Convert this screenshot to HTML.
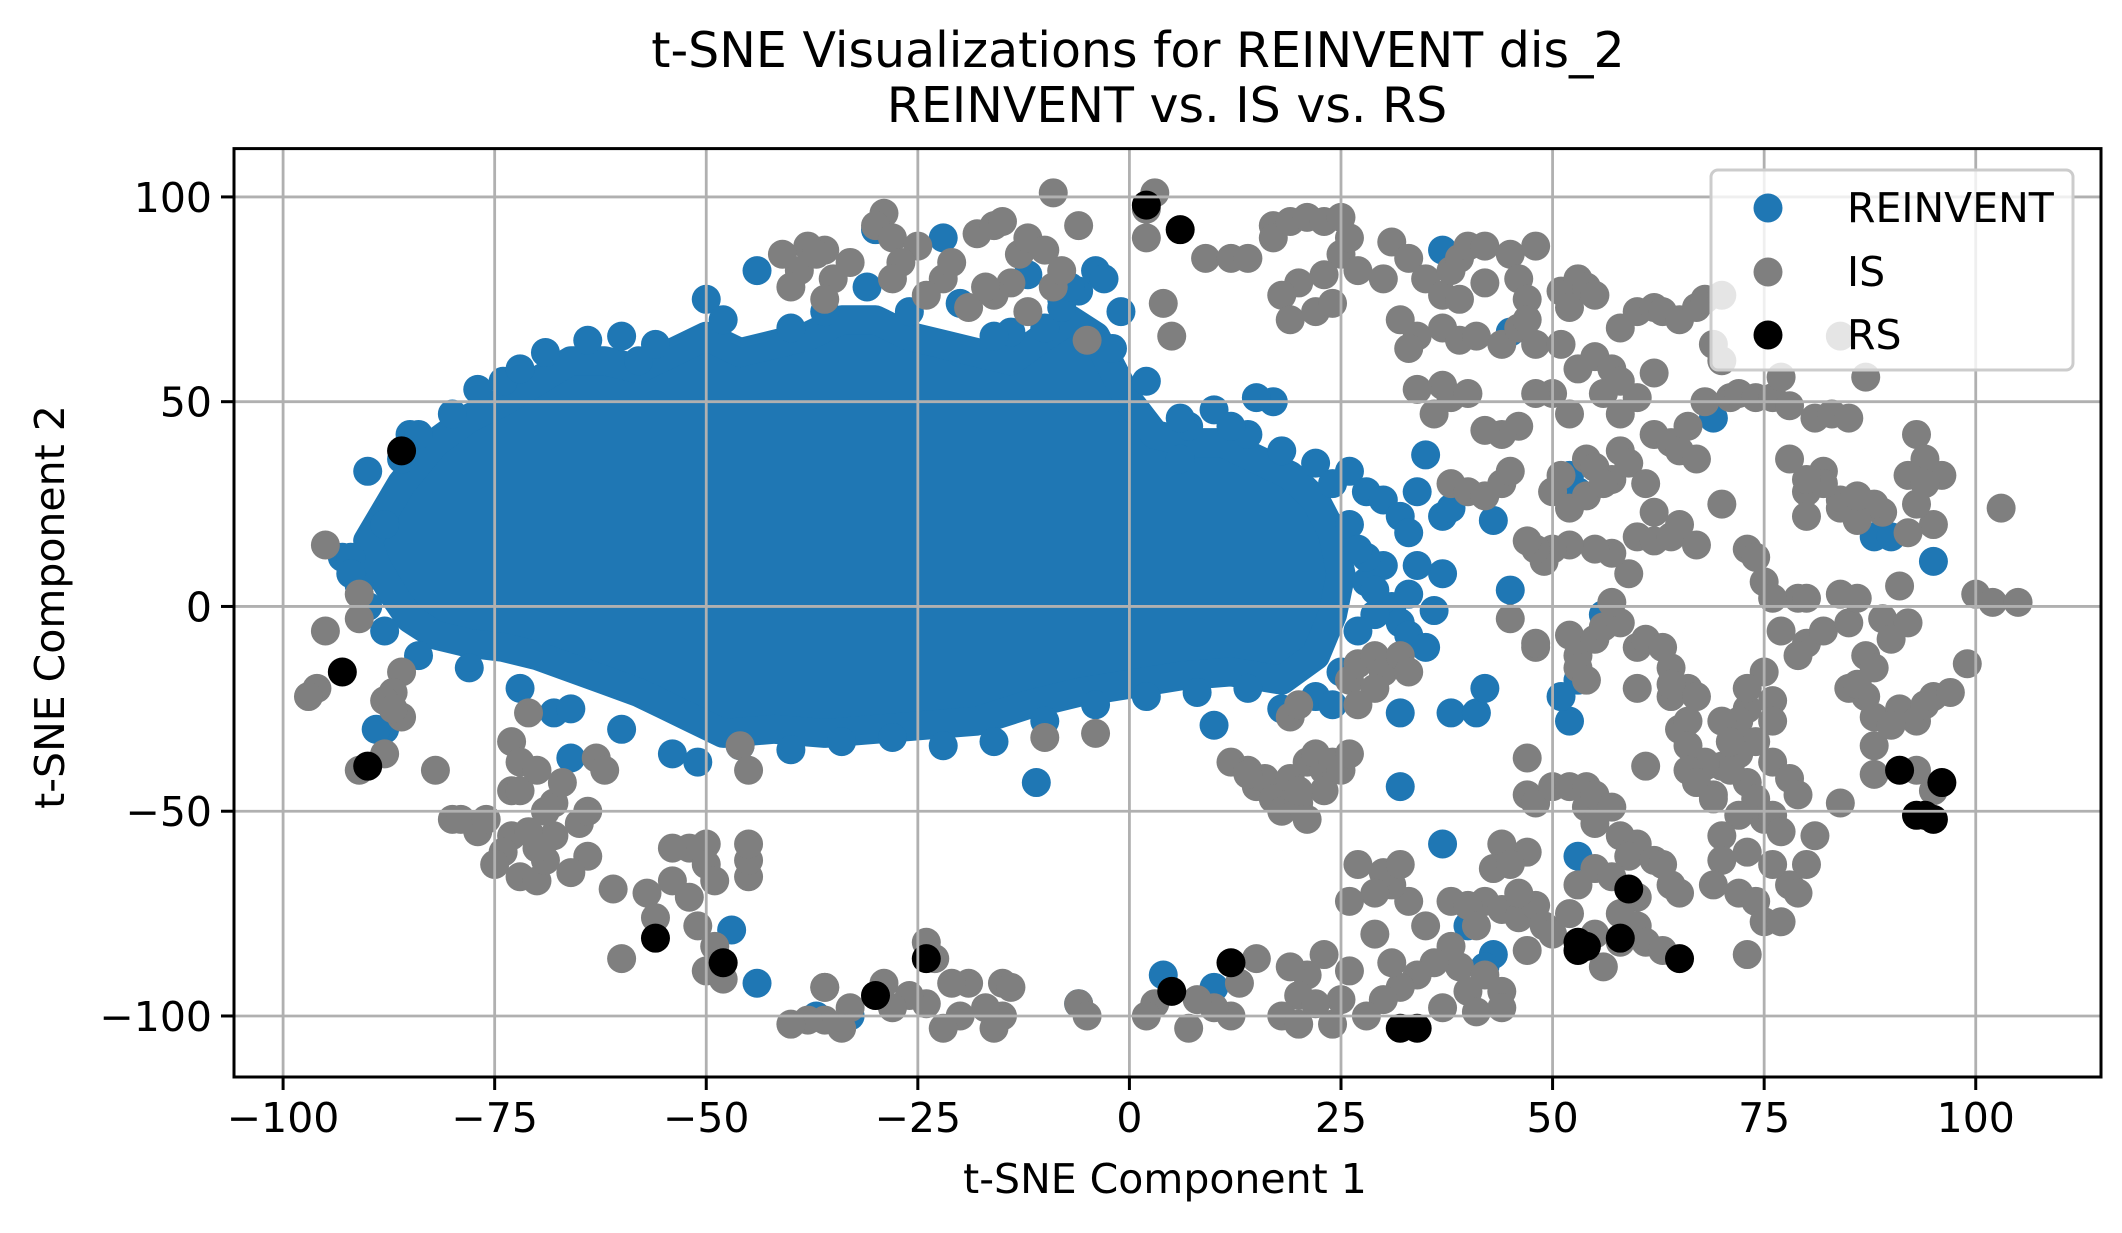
<!DOCTYPE html>
<html><head><meta charset="utf-8"><style>
html,body{margin:0;padding:0;background:#fff;}
svg{display:block;font-family:"DejaVu Sans","Liberation Sans",sans-serif;}
</style></head><body>
<svg id="chart" width="2122" height="1233" viewBox="0 0 2122 1233">
<rect width="2122" height="1233" fill="#fff"/>
<g id="marks"></g>
<g id="grid"></g>
<g id="axes"></g>
<text x="1138" y="67" text-anchor="middle" font-size="49">t-SNE Visualizations for REINVENT dis_2</text>
<text x="1167" y="122" text-anchor="middle" font-size="49">REINVENT vs. IS vs. RS</text>
<text x="1165" y="1193" text-anchor="middle" font-size="41">t-SNE Component 1</text>
<text transform="translate(64,607) rotate(-90)" text-anchor="middle" font-size="41">t-SNE Component 2</text>
<g>
<rect x="1711" y="170" width="362" height="200" rx="7" fill="#fff" fill-opacity="0.8" stroke="#ccc" stroke-width="3"/>
<circle cx="1768" cy="208" r="14.5" fill="#1f77b4"/>
<text x="1847" y="222" font-size="41">REINVENT</text>
<circle cx="1768" cy="272" r="14.5" fill="#7f7f7f"/>
<text x="1847" y="286" font-size="41">IS</text>
<circle cx="1768" cy="335" r="14.5" fill="#000"/>
<text x="1847" y="349" font-size="41">RS</text>
</g>
</svg>
<script>
const xTicks=[-100,-75,-50,-25,0,25,50,75,100];
const yTicks=[-100,-50,0,50,100];
const xTickLabels=["\u2212100","\u221275","\u221250","\u221225","0","25","50","75","100"];
const yTickLabels=["\u2212100","\u221250","0","50","100"];
const xDomain=[-105.8,114.8];
const yDomain=[-114.9,111.8];
// dense REINVENT core outline (data coords)
const reinventCoreX=[-90,-86,-82,-78,-74,-70,-66,-62,-58,-54,-50,-46,-42,-38,-34,-30,-26,-22,-18,-14,-10,-7,-4,-2,0,3,7,11,15,19,22,24,25,24,22,18,12,6,0,-6,-12,-18,-24,-30,-36,-42,-48,-52,-55,-58,-62,-66,-70,-74,-78,-82,-85,-87,-89];
const reinventCoreY=[16,30,40,46,50,55,60,60,58,62,66,62,64,66,70,70,66,64,62,60,66,70,66,58,50,42,40,40,36,32,26,18,8,-2,-12,-18,-16,-17,-19,-21,-24,-28,-29,-30,-31,-30,-31,-27,-24,-21,-18,-15,-12,-10,-9,-7,-3,3,10];
const reinventX=[-88,-68,-66,-51,-47,-44,-37,-33,-30,-22,-20,-31,-44,-11,-6,4,10,10,37,32,32,35,37,38,38,41,42,43,45,45,37,52,53,52,53,51,53,56,37,40,43,42,69,88,90,95,17,15,14,10,6,7,-8,-6,-4,-12,-10,-14,-58,-69,-50,-74,-60,-90,-89,-93,-85,22,26,28,30,32,34,33,30,31,32,33,35,29,28,34,36,33,
 -92,-91,-88,-86,-84,-80,-77,-72,-64,-56,-48,-40,-36,-26,-16,-8,-2,2,6,12,18,24,26,28,27,25,22,18,14,8,2,-4,-10,-16,-22,-28,-34,-40,-46,-54,-60,-66,-72,-78,-84,-88,-90,-92,-3,-7,-1,27,29,24];
const reinventY=[-30,-26,-37,-38,-79,-92,-100,-100,92,90,74,78,82,-43,-97,-90,-29,-93,8,-26,-44,37,22,24,-26,-26,-20,21,4,67,87,-28,-18,32,28,-22,-61,-2,-58,-78,-85,-88,46,17,17,11,50,51,42,48,36,44,75,77,82,81,68,67,60,62,75,55,66,33,-30,12,42,35,33,28,26,22,28,18,10,0,-4,-7,-10,-2,6,10,-1,3,
 12,5,20,36,42,47,53,58,65,64,70,68,72,72,66,73,63,55,46,44,38,30,20,12,-6,-16,-22,-25,-20,-21,-22,-24,-28,-33,-34,-32,-33,-35,-34,-36,-30,-25,-20,-15,-12,-6,0,8,80,78,72,14,4,-24];
const isX=[-29,-30,-28,-25,-27,-28,-22,-18,-16,-15,-13,-12,-10,-9,-8,-6,-14,-16,-19,-17,-12,-9,-24,-21,-33,-35,-36,-38,-39,-40,-36,-41,-37,-5,3,2,2,4,5,9,12,14,17,17,19,21,23,25,25,26,23,20,18,19,22,24,27,30,31,33,32,34,33,35,37,38,39,40,42,42,39,37,39,41,44,46,45,46,47,47,48,48,51,52,53,54,55,51,53,55,57,58,60,62,63,65,67,68,70,69,70,71,72,74,76,68,58,60,62,58,56,50,52,48,46,44,42,36,37,34,38,40,38,40,42,44,45,50,51,54,55,57,58,59,61,62,64,65,66,67,70,73,74,75,77,79,80,82,85,84,86,87,88,89,92,91,90,85,87,86,88,88,91,93,94,95,97,99,100,102,105,103,96,93,94,92,89,88,86,84,82,82,80,78,78,81,83,85,84,87,77,80,84,86,80,95,93,94,92,76,80,79,75,76,73,72,76,74,76,72,70,73,74,75,71,68,68,66,65,64,66,66,70,71,69,72,76,77,78,79,81,80,78,76,73,70,70,69,72,74,75,73,77,79,84,88,93,95,90,60,62,64,67,62,65,59,57,55,52,50,49,48,47,52,54,56,45,48,48,52,53,55,56,53,54,58,57,60,61,63,64,64,60,61,66,67,69,73,67,47,47,48,50,52,54,54,55,55,57,58,60,59,62,63,64,65,60,58,55,57,53,47,44,43,45,42,44,46,48,46,47,49,50,52,55,56,58,60,61,63,38,40,41,38,39,40,42,44,44,41,37,36,34,32,35,33,31,30,32,27,29,26,29,31,30,28,25,26,23,21,20,18,20,22,24,19,15,13,12,10,8,7,3,2,-6,-5,-15,-16,-17,-15,-19,-21,-20,-22,-24,-26,-28,-29,-30,-33,-34,-36,-38,-36,-40,-23,-24,-14,12,14,15,16,17,18,20,21,19,21,22,23,23,24,25,26,19,20,14,20,26,27,29,30,32,33,29,27,-95,-91,-91,-95,-96,-97,-91,-86,-87,-88,-86,-87,-88,-82,-80,-79,-77,-76,-73,-72,-73,-71,-72,-73,-74,-75,-72,-70,-69,-70,-68,-68,-67,-69,-71,-65,-64,-66,-63,-64,-61,-60,-57,-56,-54,-52,-52,-54,-50,-50,-49,-51,-49,-50,-48,-45,-45,-45,-46,-45,-36,-10,-4,-70,-62];
const isY=[96,93,90,88,84,80,80,91,93,94,86,90,87,78,82,93,79,76,73,78,72,101,76,84,84,80,87,88,82,78,75,86,86,65,101,97,90,74,66,85,85,85,93,90,94,95,94,95,86,90,81,79,76,70,72,74,82,80,89,85,70,66,63,80,76,82,85,88,88,79,75,68,65,66,64,68,86,80,75,70,88,64,77,73,80,78,76,64,58,61,58,68,72,73,72,70,73,75,76,64,60,51,52,51,51,50,55,51,57,47,52,52,47,52,44,42,43,47,54,53,51,52,30,28,27,30,33,28,32,36,34,31,38,35,30,42,40,38,44,36,25,14,12,6,-6,2,-9,-6,-4,3,2,-12,-15,-3,-4,5,-8,-20,-22,-19,-34,-27,-25,-28,-24,-22,-21,-14,3,1,1,24,32,42,36,32,23,25,21,26,33,30,28,36,49,46,47,46,66,56,56,31,24,27,22,20,25,30,18,2,2,-12,-16,-23,-25,-28,-28,-33,-38,-36,-39,-43,-47,-52,-40,-39,-38,-20,-30,-22,-28,-34,-28,-33,-46,-51,-51,-55,-42,-46,-56,-63,-68,-63,-60,-56,-62,-68,-70,-72,-77,-85,-77,-70,-48,-41,-40,-45,-29,17,16,17,15,23,20,8,13,14,15,14,11,14,16,24,27,30,-3,-10,-9,-7,-12,-8,-5,-15,-18,-4,1,-10,-8,-10,-15,-19,-20,-39,-40,-43,-47,-20,-22,-37,-46,-48,-44,-44,-44,-49,-46,-53,-49,-56,-58,-61,-62,-63,-68,-70,-71,-75,-64,-66,-68,-60,-58,-64,-63,-72,-74,-76,-73,-70,-84,-78,-80,-75,-80,-88,-82,-78,-82,-84,-72,-73,-78,-83,-88,-94,-90,-94,-98,-99,-98,-87,-90,-93,-78,-72,-68,-65,-63,-63,-70,-72,-80,-87,-96,-100,-96,-89,-85,-90,-95,-100,-102,-97,-102,-88,-86,-92,-100,-98,-96,-103,-97,-100,-97,-100,-100,-103,-98,-92,-92,-92,-100,-103,-97,-95,-98,-92,-95,-98,-103,-101,-101,-93,-102,-86,-82,-93,-38,-40,-44,-42,-47,-50,-48,-52,-42,-38,-36,-40,-45,-38,-40,-36,-27,-24,-41,-45,-18,-14,-12,-16,-12,-16,-20,-24,15,3,-3,-6,-20,-22,-40,-16,-21,-23,-27,-25,-36,-40,-52,-52,-55,-52,-45,-45,-33,-26,-38,-56,-60,-63,-66,-67,-62,-59,-56,-48,-43,-50,-55,-53,-61,-65,-37,-50,-69,-86,-70,-76,-67,-71,-59,-59,-58,-63,-67,-78,-83,-89,-91,-66,-62,-58,-34,-40,-93,-32,-31,-40,-40];
const rsX=[-86,-93,-90,-56,-48,-30,-24,2,6,5,12,32,34,53,54,53,58,59,65,91,96,93,95,94];
const rsY=[38,-16,-39,-81,-87,-95,-86,98,92,-94,-87,-103,-103,-82,-83,-84,-81,-69,-86,-40,-43,-51,-52,-51];

const L=234,R=2101,T=148.6,B=1077;
function sx(v){return L+(v-xDomain[0])/(xDomain[1]-xDomain[0])*(R-L);}
function sy(v){return B-(v-yDomain[0])/(yDomain[1]-yDomain[0])*(B-T);}
const NS="http://www.w3.org/2000/svg";
const marks=document.getElementById('marks');
const RAD=14.5;

function drawSeries(xs,ys,color,name){
  const g=document.createElementNS(NS,'g');
  
  
  for(let i=0;i<xs.length;i++){
    const c=document.createElementNS(NS,'circle');
    c.setAttribute('cx',sx(xs[i]));c.setAttribute('cy',sy(ys[i]));
    c.setAttribute('r',RAD);c.setAttribute('fill',color);
    
    
    g.appendChild(c);
  }
  marks.appendChild(g);
}
const core=document.createElementNS(NS,'polygon');
core.setAttribute('points',reinventCoreX.map((x,i)=>sx(x)+','+sy(reinventCoreY[i])).join(' '));
core.setAttribute('fill','#1f77b4');core.setAttribute('stroke','#1f77b4');
core.setAttribute('stroke-width',2*RAD);core.setAttribute('stroke-linejoin','round');


marks.appendChild(core);
drawSeries(reinventX,reinventY,'#1f77b4','reinvent-series');
drawSeries(isX,isY,'#7f7f7f','is-series');
drawSeries(rsX,rsY,'#000000','rs-series');

const grid=document.getElementById('grid');
xTicks.forEach(v=>{
  const l=document.createElementNS(NS,'line');
  l.setAttribute('x1',sx(v));l.setAttribute('x2',sx(v));l.setAttribute('y1',T);l.setAttribute('y2',B);
  l.setAttribute('stroke','#b0b0b0');l.setAttribute('stroke-width','2.8');
  
  
  grid.appendChild(l);
});
yTicks.forEach(v=>{
  const l=document.createElementNS(NS,'line');
  l.setAttribute('y1',sy(v));l.setAttribute('y2',sy(v));l.setAttribute('x1',L);l.setAttribute('x2',R);
  l.setAttribute('stroke','#b0b0b0');l.setAttribute('stroke-width','2.8');
  
  
  grid.appendChild(l);
});
const axes=document.getElementById('axes');
const frame=document.createElementNS(NS,'rect');
frame.setAttribute('x',L);frame.setAttribute('y',T);frame.setAttribute('width',R-L);frame.setAttribute('height',B-T);
frame.setAttribute('fill','none');frame.setAttribute('stroke','#000');frame.setAttribute('stroke-width','3');


axes.appendChild(frame);
xTicks.forEach((v,i)=>{
  const t=document.createElementNS(NS,'line');
  t.setAttribute('x1',sx(v));t.setAttribute('x2',sx(v));t.setAttribute('y1',B);t.setAttribute('y2',B+13);
  t.setAttribute('stroke','#000');t.setAttribute('stroke-width','3');
  
  
  axes.appendChild(t);
  const tx=document.createElementNS(NS,'text');
  tx.setAttribute('x',sx(v));tx.setAttribute('y',B+55);tx.setAttribute('text-anchor','middle');tx.setAttribute('font-size','41');
  tx.textContent=xTickLabels[i];
  
  
  axes.appendChild(tx);
});
yTicks.forEach((v,i)=>{
  const t=document.createElementNS(NS,'line');
  t.setAttribute('y1',sy(v));t.setAttribute('y2',sy(v));t.setAttribute('x1',L-13);t.setAttribute('x2',L);
  t.setAttribute('stroke','#000');t.setAttribute('stroke-width','3');
  
  
  axes.appendChild(t);
  const tx=document.createElementNS(NS,'text');
  tx.setAttribute('x',L-22);tx.setAttribute('y',sy(v)+15);tx.setAttribute('text-anchor','end');tx.setAttribute('font-size','41');
  tx.textContent=yTickLabels[i];
  
  
  axes.appendChild(tx);
});
</script>
</body></html>
